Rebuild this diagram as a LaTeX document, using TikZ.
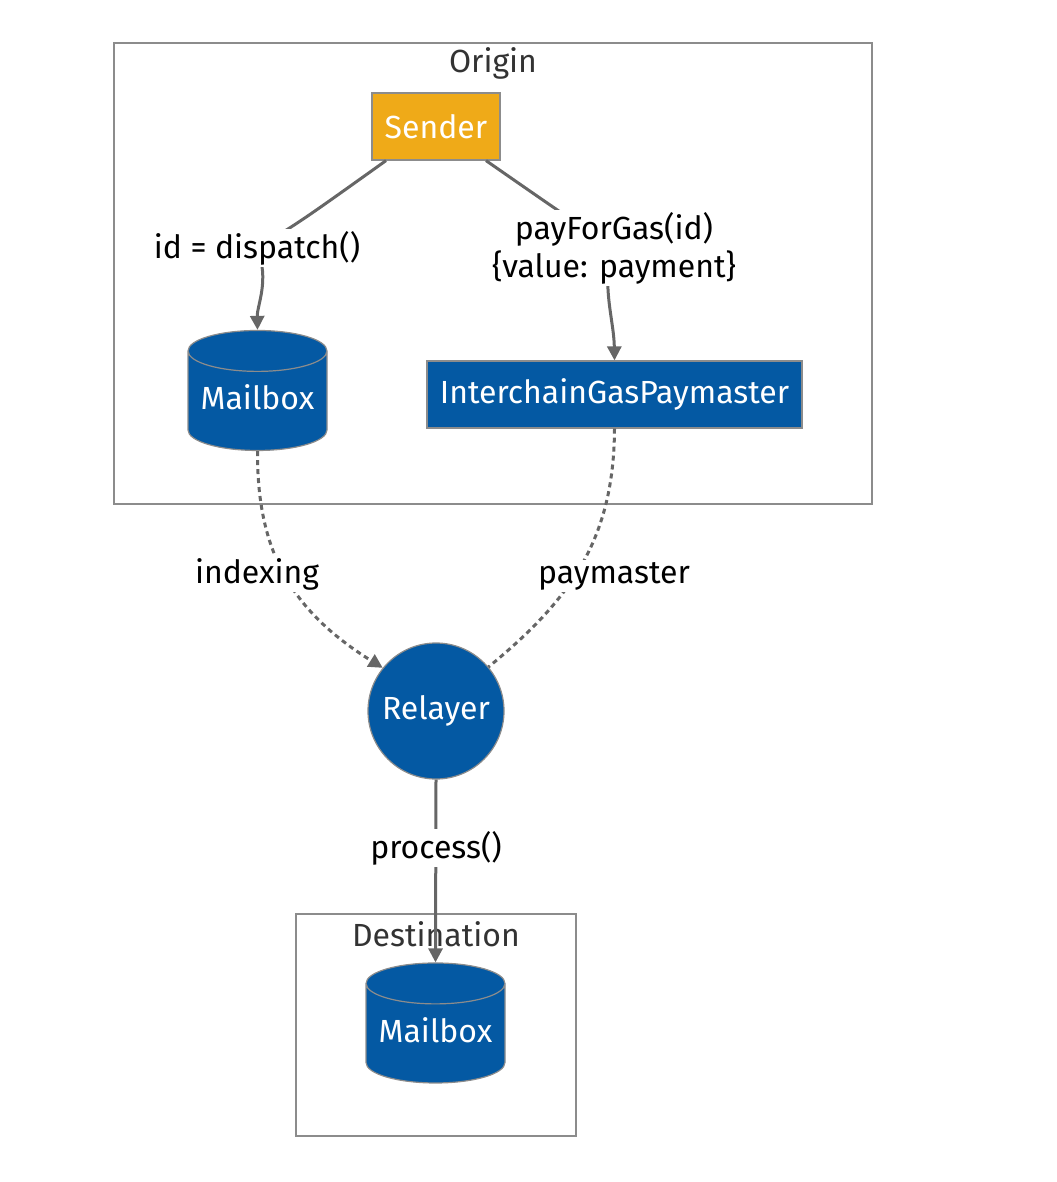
\documentclass[tikz,border=0pt]{standalone}
\usepackage{fontspec}
\setmainfont{Fira Sans}
\usepackage{xcolor}
\usepackage{tikz}
\usetikzlibrary{shapes,arrows,positioning,calc,arrows.meta}
\definecolor{senderorange}{RGB}{239,170,24}
\definecolor{nodeblue}{RGB}{4,89,163}
\definecolor{edgegray}{RGB}{102,102,102}
\definecolor{bordergray}{RGB}{140,140,140}

\tikzset{
    box/.style={draw=bordergray, line width=0.6pt, text=white, font=\fontsize{16}{19}\selectfont, inner sep=0pt},
    bluebox/.style={box, fill=nodeblue, minimum height=33.5pt},
    db/.style={box, fill=nodeblue, cylinder, shape border rotate=90, aspect=0.36, minimum width=69.5pt, minimum height=60pt},
    cluster/.style={draw=bordergray, line width=0.9pt},
    ctitle/.style={text=black!80, font=\fontsize{16}{19}\selectfont},
    edge/.style={draw=edgegray, line width=1.5pt},
    dotedge/.style={edge, dash pattern=on 2.5pt off 2pt},
    tip/.style={-{Triangle[length=7pt,width=7pt]}},
    lbl/.style={fill=white, text=black, inner sep=1pt, font=\fontsize{16}{19}\selectfont}
}

\begin{document}
\begin{tikzpicture}[x=0.5pt,y=-0.5pt]
    \useasboundingbox (0,0) rectangle (1056,1182);
    % groups
    \draw[cluster] (114,43) rectangle (872,504);
    \node[ctitle] (origin) at (493,63) {Origin};
    \draw[cluster] (296,914) rectangle (576,1136);
    \node[ctitle] (destination) at (436,934) {Destination};

    % nodes
    \node[box, fill=senderorange, minimum width=64pt, minimum height=33.5pt] (sender) at (436,126.5) {Sender};
    \node[db] (mailbox) at (257.5,401) {\raisebox{3.5pt}{Mailbox}};
    \node[bluebox, minimum width=187.5pt] (igp) at (614.5,394.5) {InterchainGasPaymaster};
    \node[box, fill=nodeblue, circle, minimum size=68pt] (relayer) at (436,711) {Relayer};
    \node[db] (dmailbox) at (435.5,1033.5) {\raisebox{3.5pt}{Mailbox}};

    % edges
    \draw[edge,tip] ([xshift=-25pt]sender.south) .. controls (300,222) .. (257,248)
        .. controls (270,280) and (257,305) .. (mailbox.north)
        node[lbl] at (257,248) {id = dispatch()};
    \draw[edge,tip] ([xshift=25pt]sender.south) .. controls (560,212) .. (614,248)
        .. controls (600,280) and (614,320) .. (igp.north)
        node[lbl, align=center] at (614,248) {payForGas(id)\\\{value: payment\}};
    \draw[dotedge,tip] (mailbox.south) .. controls (257,550) and (290,610) .. (relayer.141)
        node[lbl] at (257,574) {indexing};
    \draw[dotedge] (igp.south) .. controls (614,540) and (570,600) .. (relayer.40)
        node[lbl] at (614,576) {paymaster};
    \draw[edge,tip] (relayer.south) -- (dmailbox.north)
        node[lbl] at (436,848) {process()};
\end{tikzpicture}
\end{document}
